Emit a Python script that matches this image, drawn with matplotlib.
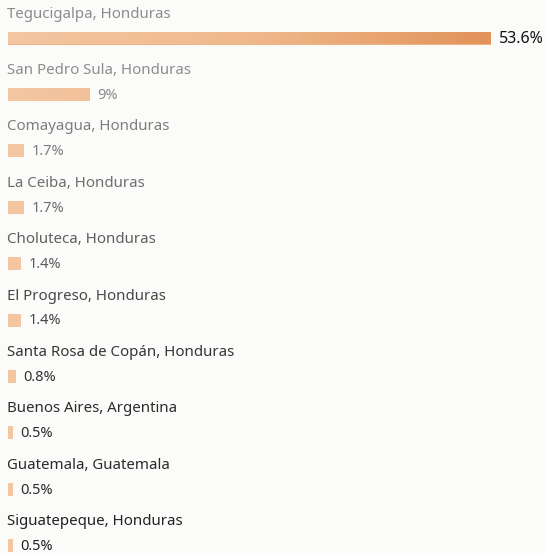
import matplotlib
matplotlib.use("Agg")
import matplotlib.pyplot as plt
from matplotlib.colors import LinearSegmentedColormap
import numpy as np

cities = ["Tegucigalpa, Honduras", "San Pedro Sula, Honduras", "Comayagua, Honduras",
          "La Ceiba, Honduras", "Choluteca, Honduras", "El Progreso, Honduras",
          "Santa Rosa de Copán, Honduras", "Buenos Aires, Argentina",
          "Guatemala, Guatemala", "Siguatepeque, Honduras"]
shares = [53.6, 9, 1.7, 1.7, 1.4, 1.4, 0.8, 0.5, 0.5, 0.5]
share_labels = ["53.6%", "9%", "1.7%", "1.7%", "1.4%", "1.4%", "0.8%", "0.5%", "0.5%", "0.5%"]

plt.rcParams['font.family'] = ['Noto Sans', 'DejaVu Sans']

fig = plt.figure(figsize=(5.45, 5.53), dpi=100)
ax = fig.add_axes([0, 0, 1, 1])
fig.patch.set_facecolor("#fbfbfa")
ax.set_facecolor("#fbfbfa")

pxpct = 483 / 53.6
rowpx = 56.4
xlim = (-8 / pxpct, (545 - 8) / pxpct)
ylim = ((553 - 38) / rowpx, -38 / rowpx)

y = np.arange(len(cities))
bars = ax.barh(y, shares, height=13 / rowpx, color="#efb07c", edgecolor="none")

# light-to-dark orange shading along the bar, like the screen
cmap = LinearSegmentedColormap.from_list("bar", ["#f4c6a2", "#f0b98c", "#e1935a"])
grad = np.linspace(0, 1, 256).reshape(1, -1)
for b in bars:
    im = ax.imshow(grad, cmap=cmap, aspect="auto", extent=(0, shares[0], ylim[0], ylim[1]),
                   zorder=2)
    im.set_clip_path(b)

ax.set_xlim(*xlim)
ax.set_ylim(*ylim)
ax.axis("off")

grays = ["#8c8c8c", "#8c8c8c", "#7d7d7d", "#6e6e6e", "#5e5e5e",
         "#474747", "#353535", "#2c2c2c", "#2a2a2a", "#222222"]
for i in range(len(cities)):
    ax.text(-1 / pxpct, y[i] - 24 / rowpx, cities[i], fontsize=10.8, color=grays[i],
            va="center", ha="left")
    ax.text(shares[i] + 8 / pxpct, y[i] + 1 / rowpx, share_labels[i],
            fontsize=11.5 if i == 0 else 10.5,
            color="#111111" if i == 0 else grays[i], va="center", ha="left")

fig.savefig("out.png", dpi=100, facecolor=fig.get_facecolor())
